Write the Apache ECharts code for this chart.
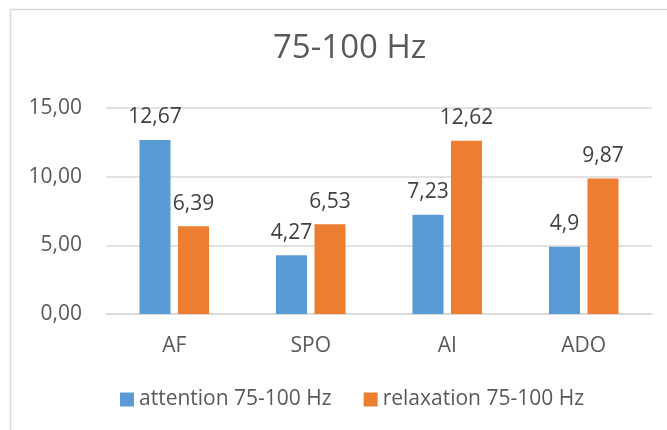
<!DOCTYPE html>
<html>
<head>
<meta charset="utf-8">
<script src="https://cdn.jsdelivr.net/npm/echarts@6/dist/echarts.min.js"></script>
<style>
  html, body { margin: 0; padding: 0; background: #fff; }
  #chart { width: 667px; height: 430px; }
</style>
</head>
<body>
<div id="chart"></div>
<script>
// Band power 75-100 Hz per condition
const categories = ['AF', 'SPO', 'AI', 'ADO'];
const attention = [12.67, 4.27, 7.23, 4.9];
const relaxation = [6.39, 6.53, 12.62, 9.87];
const seriesNames = ['attention 75-100 Hz', 'relaxation 75-100 Hz'];
const yTicks = { min: 0, max: 15, interval: 5 };

const FONT = '"Open Sans", sans-serif';
const TEXT = '#595959';
const GRID = '#D9D9D9';

// Decimal comma formatting
const fmtTick = v => v.toFixed(2).replace('.', ',');
const fmtVal = p => String(p.value).replace('.', ',');

const chart = echarts.init(document.getElementById('chart'), null, { renderer: 'canvas' });

const labelStyle = {
  show: true,
  position: 'top',
  distance: 12,
  formatter: fmtVal,
  color: '#404040',
  fontFamily: FONT,
  fontSize: 21
};

chart.setOption({
  animation: false,
  backgroundColor: '#fff',
  graphic: [{
    type: 'rect',
    shape: { x: 10.5, y: 9.5, width: 700, height: 500 },
    style: { fill: 'none', stroke: GRID, lineWidth: 1.5 },
    silent: true,
    z: -1
  }],
  title: {
    text: '75-100 Hz',
    left: 268,
    top: 27,
    textStyle: { color: TEXT, fontFamily: FONT, fontSize: 33, fontWeight: 'normal' }
  },
  grid: { left: 106, right: 15, top: 108, bottom: 116 },
  legend: {
    bottom: 15,
    left: 115,
    itemWidth: 14,
    itemHeight: 14,
    itemGap: 32,
    icon: 'rect',
    textStyle: { color: TEXT, fontFamily: FONT, fontSize: 21 },
    data: seriesNames
  },
  xAxis: {
    type: 'category',
    data: categories,
    axisLine: { lineStyle: { color: GRID, width: 1.5 } },
    axisTick: { show: false },
    axisLabel: { color: TEXT, fontFamily: FONT, fontSize: 21, margin: 22 }
  },
  yAxis: {
    type: 'value',
    min: yTicks.min,
    max: yTicks.max,
    interval: yTicks.interval,
    axisLine: { show: false },
    axisTick: { show: false },
    splitLine: { lineStyle: { color: GRID, width: 1.5 } },
    axisLabel: { color: TEXT, fontFamily: FONT, fontSize: 21, margin: 24, formatter: fmtTick }
  },
  series: [
    {
      name: seriesNames[0],
      type: 'bar',
      data: attention,
      itemStyle: { color: '#5B9BD5' },
      barGap: '24%',
      barCategoryGap: '49%',
      label: labelStyle
    },
    {
      name: seriesNames[1],
      type: 'bar',
      data: relaxation,
      itemStyle: { color: '#ED7D31' },
      barGap: '24%',
      barCategoryGap: '49%',
      label: labelStyle
    }
  ]
});
</script>
</body>
</html>
